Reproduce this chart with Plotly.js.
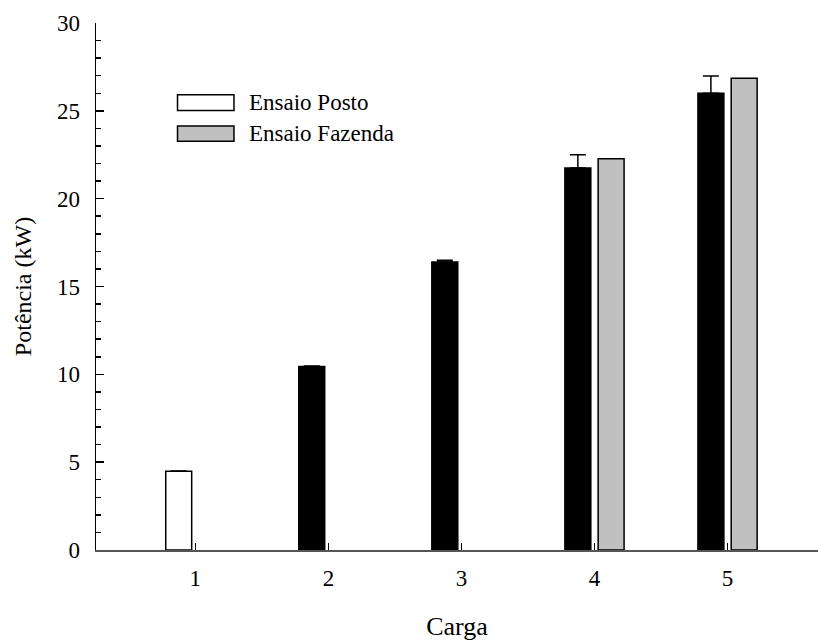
<!DOCTYPE html>
<html>
<head>
<meta charset="utf-8">
<script src="https://cdn.plot.ly/plotly-3.0.1.min.js"></script>
<style>
  html, body { margin: 0; padding: 0; background: #fff; }
  #chart { width: 818px; height: 641px; }
</style>
</head>
<body>
<div id="chart"></div>
<script>
// Potência medida por carga: ensaio no posto (com desvio) e ensaio na fazenda
const cargas = [1, 2, 3, 4, 5];
const potenciaPosto = [4.48, 10.44, 16.39, 21.74, 26.0];
const desvioPosto = [0.02, 0.04, 0.11, 0.76, 0.99];
const potenciaFazenda = [null, null, null, 22.27, 26.86];
const nomesSeries = ['Ensaio Posto', 'Ensaio Fazenda'];

const serif = 'Liberation Serif';
const FS = 23;

// Primeira barra do posto vazada, demais preenchidas
const coresPosto = cargas.map((c, i) => (i === 0 ? '#ffffff' : '#000000'));

const tracePosto = {
  type: 'bar',
  name: nomesSeries[0],
  x: cargas,
  y: potenciaPosto,
  marker: { color: coresPosto, line: { color: '#000000', width: 1.5 } },
  error_y: {
    type: 'data',
    symmetric: false,
    array: desvioPosto,
    arrayminus: desvioPosto.map(() => 0),
    color: '#000000',
    thickness: 1.5,
    width: 8
  },
  hoverinfo: 'x+y'
};

const traceFazenda = {
  type: 'bar',
  name: nomesSeries[1],
  x: cargas,
  y: potenciaFazenda,
  marker: { color: '#c0c0c0', line: { color: '#000000', width: 1.5 } },
  hoverinfo: 'x+y'
};

// Legenda desenhada com caixas largas, no estilo do gráfico
const legendShapes = [
  { type: 'rect', xref: 'paper', yref: 'paper', x0: 0.1129, x1: 0.1911, y0: 0.834, y1: 0.864,
    fillcolor: '#ffffff', line: { color: '#000000', width: 1.5 } },
  { type: 'rect', xref: 'paper', yref: 'paper', x0: 0.1129, x1: 0.1911, y0: 0.7756, y1: 0.8045,
    fillcolor: '#c0c0c0', line: { color: '#000000', width: 1.5 } }
];
const legendText = [
  { xref: 'paper', yref: 'paper', x: 0.209, y: 0.849, xanchor: 'left', yanchor: 'middle',
    text: nomesSeries[0], showarrow: false, font: { family: serif, size: FS, color: '#000' } },
  { xref: 'paper', yref: 'paper', x: 0.209, y: 0.790, xanchor: 'left', yanchor: 'middle',
    text: nomesSeries[1], showarrow: false, font: { family: serif, size: FS, color: '#000' } }
];

const layout = {
  width: 818,
  height: 641,
  margin: { l: 96, r: 0, t: 22.5, b: 90.5, pad: 0 },
  paper_bgcolor: '#ffffff',
  plot_bgcolor: '#ffffff',
  showlegend: false,
  barmode: 'group',
  bargap: 0.5,
  bargroupgap: 0.22,
  font: { family: serif, size: FS, color: '#000' },
  xaxis: {
    range: [0.2534, 5.68],
    tickmode: 'array',
    tickvals: cargas,
    ticktext: cargas.map(String),
    ticks: 'inside',
    ticklen: 7,
    tickwidth: 1,
    tickcolor: '#000',
    showline: true,
    linecolor: '#555',
    linewidth: 1.5,
    showgrid: false,
    zeroline: false,
    ticklabelstandoff: 7,
    tickfont: { family: serif, size: FS, color: '#000' },
    title: { text: 'Carga', font: { family: serif, size: FS + 3, color: '#000' }, standoff: 28 }
  },
  yaxis: {
    range: [0, 30],
    tick0: 0,
    dtick: 5,
    ticks: 'inside',
    ticklen: 8,
    tickwidth: 1.5,
    tickcolor: '#000',
    minor: { dtick: 1, ticks: 'inside', ticklen: 5, tickwidth: 1.5, tickcolor: '#000', showgrid: false },
    showline: true,
    linecolor: '#000',
    linewidth: 1.5,
    showgrid: false,
    zeroline: false,
    ticklabelstandoff: 10,
    tickfont: { family: serif, size: FS, color: '#000' },
    title: { text: 'Potência (kW)', font: { family: serif, size: FS + 1, color: '#000' }, standoff: 18 }
  },
  shapes: legendShapes,
  annotations: legendText
};

Plotly.newPlot('chart', [tracePosto, traceFazenda], layout, { displayModeBar: false, staticPlot: true });
</script>
</body>
</html>
